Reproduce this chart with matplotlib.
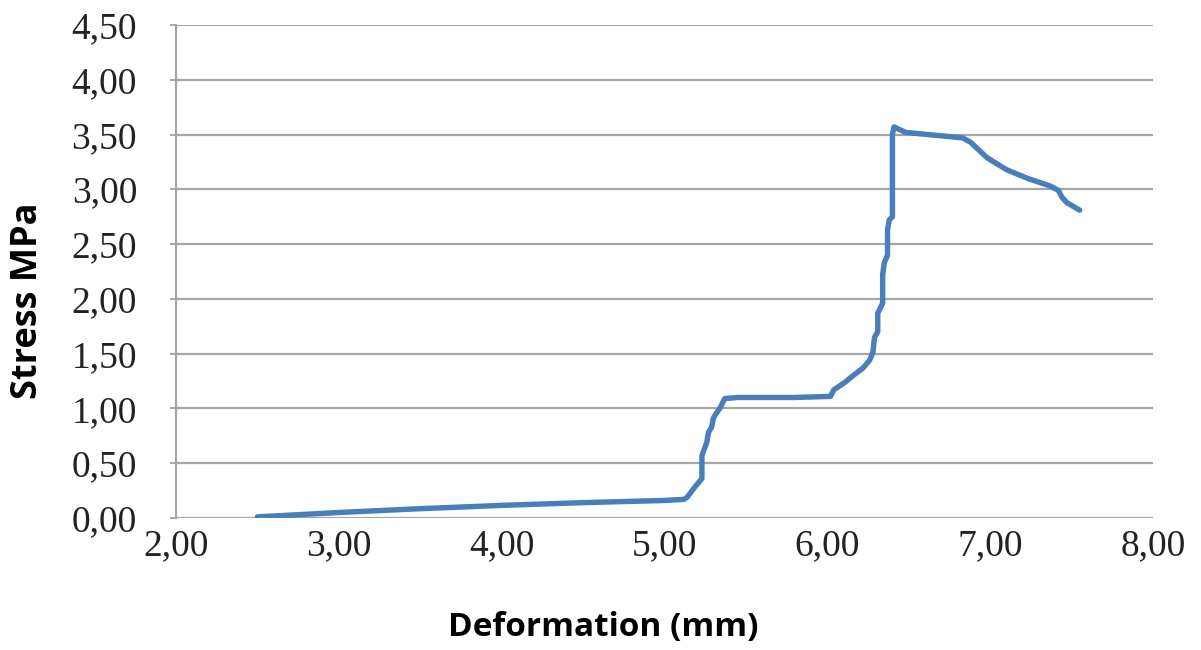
import matplotlib
matplotlib.use("Agg")
import matplotlib.pyplot as plt
from matplotlib.ticker import MultipleLocator, FuncFormatter

# deformation (mm) vs stress (MPa)
deformation = [2.50, 3.00, 3.50, 4.00, 4.50, 5.00, 5.12, 5.14, 5.18, 5.23,
               5.23, 5.23, 5.25, 5.26, 5.27, 5.29, 5.30, 5.32, 5.34, 5.36,
               5.37, 5.45, 5.80, 6.02, 6.04, 6.07, 6.11, 6.15, 6.22, 6.26,
               6.28, 6.29, 6.31, 6.31, 6.34, 6.34, 6.35, 6.37, 6.37, 6.38,
               6.40, 6.40, 6.41, 6.48, 6.83, 6.88, 6.98, 7.10, 7.23, 7.37,
               7.42, 7.44, 7.47, 7.55]
stress = [0.01, 0.05, 0.085, 0.115, 0.14, 0.16, 0.17, 0.19, 0.27, 0.36,
          0.46, 0.57, 0.65, 0.69, 0.78, 0.83, 0.91, 0.96, 1.00, 1.06,
          1.09, 1.10, 1.10, 1.11, 1.17, 1.20, 1.24, 1.29, 1.37, 1.44,
          1.51, 1.65, 1.70, 1.87, 1.96, 2.22, 2.33, 2.40, 2.63, 2.72,
          2.75, 3.50, 3.57, 3.52, 3.47, 3.43, 3.29, 3.18, 3.10, 3.03,
          2.99, 2.93, 2.88, 2.81]

grid_col = "#a6a6a6"

fig = plt.figure(figsize=(12.01, 6.5), dpi=100)
ax = fig.add_axes([0.1465, 0.2031, 0.8135, 0.7584])

ax.plot(deformation, stress, color="#4a7ebb", lw=3.9,
        solid_capstyle="round", solid_joinstyle="round", zorder=3)

ax.set_xlim(2, 8)
ax.set_ylim(0, 4.5)
ax.xaxis.set_major_locator(MultipleLocator(1))
ax.yaxis.set_major_locator(MultipleLocator(0.5))
fmt = FuncFormatter(lambda v, p: f"{v:.2f}".replace(".", ","))
ax.xaxis.set_major_formatter(fmt)
ax.yaxis.set_major_formatter(fmt)

ax.grid(axis="y", color=grid_col, lw=1.6, zorder=1)
for s in ["top", "right", "bottom"]:
    ax.spines[s].set_visible(False)
ax.spines["left"].set_color(grid_col)
ax.spines["left"].set_linewidth(1.6)

ax.tick_params(axis="y", length=4, width=1.4, color=grid_col, pad=24,
               labelsize=27)
ax.tick_params(axis="x", length=0, pad=8, labelsize=27)
for lab in ax.get_xticklabels() + ax.get_yticklabels():
    lab.set_fontfamily("Liberation Serif")
    lab.set_color("#222222")

ax.set_xlabel("Deformation (mm)", family="Open Sans", weight="bold",
              fontsize=24, va="center")
ax.set_ylabel("Stress MPa", family="Open Sans", weight="bold",
              fontsize=26, va="center")
ax.xaxis.set_label_coords(0.437, -0.223)
ax.yaxis.set_label_coords(-0.1515, 0.44)

fig.savefig("out.png", dpi=100)
